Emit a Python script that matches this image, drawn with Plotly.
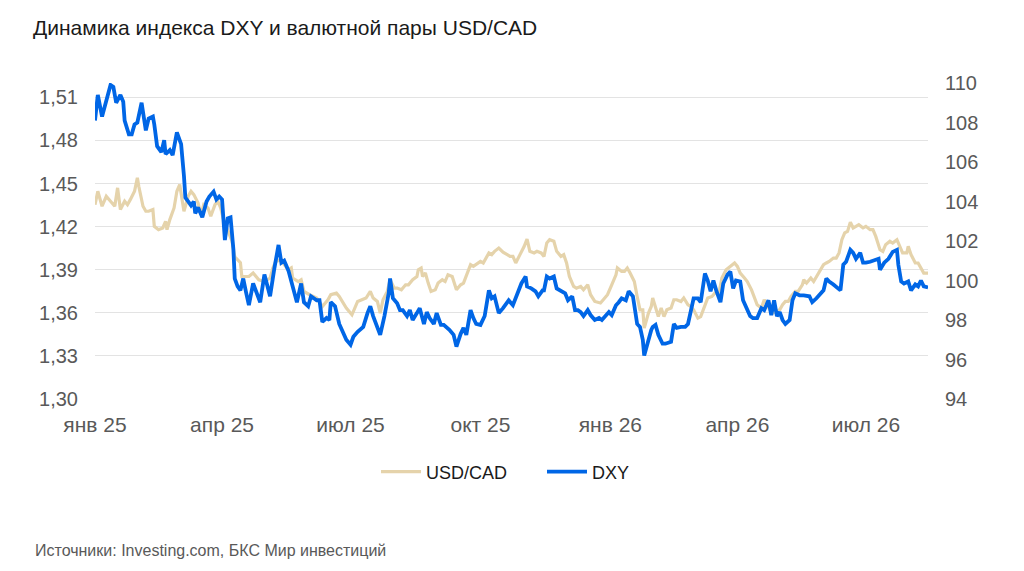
import plotly.graph_objects as go

# USD/CAD (left axis)
cad_dates = [
    "2025-01-01", "2025-01-03", "2025-01-06", "2025-01-09", "2025-01-12", "2025-01-15", "2025-01-17",
    "2025-01-19", "2025-01-22", "2025-01-24", "2025-01-26", "2025-01-29", "2025-01-31", "2025-02-01",
    "2025-02-04", "2025-02-06", "2025-02-08", "2025-02-11", "2025-02-12", "2025-02-15", "2025-02-18",
    "2025-02-20", "2025-02-21", "2025-02-23", "2025-02-26", "2025-02-28", "2025-03-02", "2025-03-05",
    "2025-03-08", "2025-03-10", "2025-03-12", "2025-03-15", "2025-03-17", "2025-03-19", "2025-03-22",
    "2025-03-24", "2025-03-27", "2025-03-29", "2025-03-31", "2025-04-02", "2025-04-04", "2025-04-08",
    "2025-04-10", "2025-04-14", "2025-04-15", "2025-04-17", "2025-04-20", "2025-04-23", "2025-04-25",
    "2025-04-27", "2025-05-01", "2025-05-05", "2025-05-07", "2025-05-09", "2025-05-13", "2025-05-15",
    "2025-05-18", "2025-05-20", "2025-05-21", "2025-05-25", "2025-05-27", "2025-05-29", "2025-06-02",
    "2025-06-07", "2025-06-11", "2025-06-15", "2025-06-17", "2025-06-21", "2025-06-23", "2025-06-26",
    "2025-06-28", "2025-07-02", "2025-07-04", "2025-07-06", "2025-07-09", "2025-07-12", "2025-07-15",
    "2025-07-17", "2025-07-20", "2025-07-22", "2025-07-24", "2025-07-27", "2025-07-29", "2025-08-01",
    "2025-08-03", "2025-08-06", "2025-08-09", "2025-08-11", "2025-08-14", "2025-08-17", "2025-08-18",
    "2025-08-20", "2025-08-21", "2025-08-23", "2025-08-25", "2025-08-27", "2025-08-30", "2025-09-01",
    "2025-09-04", "2025-09-06", "2025-09-08", "2025-09-11", "2025-09-14", "2025-09-17", "2025-09-19",
    "2025-09-21", "2025-09-24", "2025-09-26", "2025-09-28", "2025-10-01", "2025-10-03", "2025-10-07",
    "2025-10-09", "2025-10-11", "2025-10-14", "2025-10-17", "2025-10-20", "2025-10-22", "2025-10-24",
    "2025-10-26", "2025-10-29", "2025-11-01", "2025-11-03", "2025-11-05", "2025-11-08", "2025-11-10",
    "2025-11-13", "2025-11-15", "2025-11-17", "2025-11-19", "2025-11-22", "2025-11-24", "2025-11-27",
    "2025-11-29", "2025-12-01", "2025-12-03", "2025-12-06", "2025-12-08", "2025-12-11", "2025-12-13",
    "2025-12-16", "2025-12-18", "2025-12-21", "2025-12-25", "2025-12-27", "2025-12-30", "2026-01-02",
    "2026-01-05", "2026-01-06", "2026-01-09", "2026-01-11", "2026-01-13", "2026-01-15", "2026-01-18",
    "2026-01-20", "2026-01-22", "2026-01-24", "2026-01-25", "2026-01-28", "2026-01-30", "2026-01-31",
    "2026-02-02", "2026-02-04", "2026-02-06", "2026-02-08", "2026-02-10", "2026-02-13", "2026-02-15",
    "2026-02-17", "2026-02-20", "2026-02-22", "2026-02-25", "2026-02-27", "2026-03-01", "2026-03-04",
    "2026-03-06", "2026-03-09", "2026-03-11", "2026-03-14", "2026-03-16", "2026-03-19", "2026-03-21",
    "2026-03-24", "2026-03-27", "2026-03-30", "2026-04-01", "2026-04-03", "2026-04-06", "2026-04-08",
    "2026-04-11", "2026-04-13", "2026-04-15", "2026-04-18", "2026-04-20", "2026-04-22", "2026-04-24",
    "2026-04-26", "2026-04-28", "2026-05-01", "2026-05-03", "2026-05-05", "2026-05-07", "2026-05-09",
    "2026-05-12", "2026-05-14", "2026-05-17", "2026-05-18", "2026-05-20", "2026-05-23", "2026-05-25",
    "2026-05-27", "2026-05-29", "2026-06-01", "2026-06-03", "2026-06-05", "2026-06-08", "2026-06-10",
    "2026-06-12", "2026-06-14", "2026-06-16", "2026-06-18", "2026-06-20", "2026-06-22", "2026-06-24",
    "2026-06-26", "2026-06-29", "2026-07-01", "2026-07-04", "2026-07-06", "2026-07-08", "2026-07-11",
    "2026-07-13", "2026-07-15", "2026-07-18", "2026-07-20", "2026-07-23", "2026-07-25", "2026-07-27",
    "2026-07-30", "2026-07-31", "2026-08-02", "2026-08-05", "2026-08-07", "2026-08-09", "2026-08-11",
    "2026-08-14",
]
cad_values = [
    1.4353, 1.4446, 1.4342, 1.4411, 1.4377, 1.4342, 1.4470,
    1.4319, 1.4377, 1.4353, 1.4388, 1.4446, 1.4540, 1.4481,
    1.4342, 1.4307, 1.4307, 1.4319, 1.4202, 1.4179, 1.4191,
    1.4237, 1.4179, 1.4249, 1.4330, 1.4446, 1.4493, 1.4307,
    1.4411, 1.4446, 1.4423, 1.4365, 1.4284, 1.4353, 1.4330,
    1.4272, 1.4353, 1.4377, 1.4330, 1.4250, 1.4200, 1.4100,
    1.3990, 1.3949, 1.3853, 1.3853, 1.3853, 1.3877, 1.3853,
    1.3830, 1.3818, 1.3842, 1.3912, 1.3958, 1.3970, 1.3935,
    1.3900, 1.3912, 1.3842, 1.3818, 1.3830, 1.3749, 1.3726,
    1.3703, 1.3644, 1.3691, 1.3726, 1.3737, 1.3714, 1.3668,
    1.3633, 1.3586, 1.3633, 1.3679, 1.3691, 1.3703, 1.3749,
    1.3703, 1.3679, 1.3598, 1.3691, 1.3749, 1.3830, 1.3772,
    1.3772, 1.3760, 1.3795, 1.3795, 1.3830, 1.3853, 1.3900,
    1.3912, 1.3853, 1.3877, 1.3807, 1.3749, 1.3760, 1.3807,
    1.3830, 1.3818, 1.3865, 1.3853, 1.3760, 1.3795, 1.3807,
    1.3865, 1.3935, 1.3923, 1.3935, 1.3958, 1.3947, 1.4017,
    1.4005, 1.4028, 1.4051, 1.4022, 1.4005, 1.3993, 1.3993,
    1.3947, 1.4005, 1.4063, 1.4114, 1.4028, 1.4017, 1.4028,
    1.4017, 1.3993, 1.4086, 1.4109, 1.4098, 1.4028, 1.3993,
    1.4005, 1.3947, 1.3853, 1.3784, 1.3772, 1.3784, 1.3760,
    1.3795, 1.3726, 1.3679, 1.3668, 1.3691, 1.3726, 1.3795,
    1.3865, 1.3912, 1.3888, 1.3888, 1.3912, 1.3877, 1.3818,
    1.3714, 1.3621, 1.3621, 1.3493, 1.3598, 1.3644, 1.3703,
    1.3633, 1.3574, 1.3633, 1.3574, 1.3621, 1.3633, 1.3691,
    1.3691, 1.3679, 1.3703, 1.3656, 1.3644, 1.3621, 1.3563,
    1.3574, 1.3644, 1.3703, 1.3714, 1.3737, 1.3740, 1.3842,
    1.3900, 1.3923, 1.3947, 1.3923, 1.3877, 1.3842, 1.3818,
    1.3760, 1.3703, 1.3656, 1.3633, 1.3691, 1.3656, 1.3621,
    1.3598, 1.3609, 1.3621, 1.3656, 1.3679, 1.3679, 1.3714,
    1.3749, 1.3749, 1.3795, 1.3830, 1.3807, 1.3842, 1.3818,
    1.3853, 1.3888, 1.3935, 1.3947, 1.3958, 1.3981, 1.3981,
    1.4017, 1.4109, 1.4156, 1.4167, 1.4230, 1.4191, 1.4202,
    1.4214, 1.4191, 1.4202, 1.4179, 1.4179, 1.4132, 1.4040,
    1.4028, 1.4074, 1.4098, 1.4086, 1.4109, 1.4063, 1.4017,
    1.4017, 1.4063, 1.4005, 1.3947, 1.3947, 1.3912, 1.3877,
    1.3877,
]

# DXY (right axis)
dxy_dates = [
    "2025-01-01", "2025-01-03", "2025-01-06", "2025-01-09", "2025-01-12", "2025-01-14", "2025-01-16",
    "2025-01-19", "2025-01-21", "2025-01-22", "2025-01-25", "2025-01-27", "2025-01-29", "2025-01-31",
    "2025-02-03", "2025-02-06", "2025-02-08", "2025-02-11", "2025-02-12", "2025-02-14", "2025-02-17",
    "2025-02-19", "2025-02-20", "2025-02-23", "2025-02-25", "2025-02-28", "2025-03-03", "2025-03-05",
    "2025-03-06", "2025-03-09", "2025-03-10", "2025-03-12", "2025-03-13", "2025-03-15", "2025-03-18",
    "2025-03-21", "2025-03-23", "2025-03-26", "2025-03-28", "2025-03-30", "2025-04-01", "2025-04-03",
    "2025-04-05", "2025-04-07", "2025-04-09", "2025-04-10", "2025-04-12", "2025-04-14", "2025-04-16",
    "2025-04-18", "2025-04-20", "2025-04-23", "2025-04-25", "2025-04-28", "2025-05-01", "2025-05-03",
    "2025-05-05", "2025-05-08", "2025-05-09", "2025-05-11", "2025-05-13", "2025-05-15", "2025-05-18",
    "2025-05-20", "2025-05-22", "2025-05-24", "2025-05-27", "2025-05-29", "2025-06-01", "2025-06-03",
    "2025-06-05", "2025-06-07", "2025-06-09", "2025-06-11", "2025-06-14", "2025-06-16", "2025-06-17",
    "2025-06-20", "2025-06-23", "2025-06-26", "2025-06-28", "2025-07-01", "2025-07-03", "2025-07-06",
    "2025-07-10", "2025-07-13", "2025-07-15", "2025-07-17", "2025-07-20", "2025-07-22", "2025-07-25",
    "2025-07-28", "2025-07-29", "2025-07-31", "2025-08-03", "2025-08-05", "2025-08-07", "2025-08-10",
    "2025-08-12", "2025-08-14", "2025-08-17", "2025-08-19", "2025-08-22", "2025-08-24", "2025-08-26",
    "2025-08-29", "2025-08-31", "2025-09-03", "2025-09-05", "2025-09-07", "2025-09-09", "2025-09-12",
    "2025-09-14", "2025-09-17", "2025-09-19", "2025-09-21", "2025-09-24", "2025-09-26", "2025-09-28",
    "2025-10-01", "2025-10-04", "2025-10-07", "2025-10-09", "2025-10-11", "2025-10-14", "2025-10-17",
    "2025-10-21", "2025-10-24", "2025-10-27", "2025-10-30", "2025-11-02", "2025-11-03", "2025-11-06",
    "2025-11-09", "2025-11-11", "2025-11-14", "2025-11-15", "2025-11-17", "2025-11-19", "2025-11-22",
    "2025-11-24", "2025-11-28", "2025-11-30", "2025-12-02", "2025-12-05", "2025-12-07", "2025-12-09",
    "2025-12-11", "2025-12-13", "2025-12-16", "2025-12-18", "2025-12-21", "2025-12-24", "2025-12-26",
    "2025-12-29", "2025-12-31", "2026-01-02", "2026-01-05", "2026-01-07", "2026-01-09", "2026-01-12",
    "2026-01-14", "2026-01-17", "2026-01-18", "2026-01-20", "2026-01-22", "2026-01-24", "2026-01-25",
    "2026-01-27", "2026-01-30", "2026-01-31", "2026-02-02", "2026-02-04", "2026-02-07", "2026-02-09",
    "2026-02-13", "2026-02-15", "2026-02-17", "2026-02-20", "2026-02-23", "2026-02-25", "2026-02-27",
    "2026-03-01", "2026-03-04", "2026-03-06", "2026-03-09", "2026-03-11", "2026-03-13", "2026-03-15",
    "2026-03-17", "2026-03-20", "2026-03-22", "2026-03-25", "2026-03-27", "2026-03-29", "2026-03-31",
    "2026-04-03", "2026-04-05", "2026-04-08", "2026-04-10", "2026-04-12", "2026-04-15", "2026-04-18",
    "2026-04-20", "2026-04-23", "2026-04-25", "2026-04-27", "2026-04-29", "2026-05-01", "2026-05-03",
    "2026-05-05", "2026-05-08", "2026-05-10", "2026-05-12", "2026-05-15", "2026-05-18", "2026-05-22",
    "2026-05-24", "2026-05-27", "2026-05-30", "2026-06-01", "2026-06-03", "2026-06-05", "2026-06-08",
    "2026-06-11", "2026-06-13", "2026-06-15", "2026-06-17", "2026-06-20", "2026-06-22", "2026-06-24",
    "2026-06-27", "2026-06-29", "2026-07-01", "2026-07-04", "2026-07-07", "2026-07-10", "2026-07-11",
    "2026-07-14", "2026-07-17", "2026-07-20", "2026-07-23", "2026-07-24", "2026-07-26", "2026-07-28",
    "2026-07-31", "2026-08-02", "2026-08-05", "2026-08-07", "2026-08-09", "2026-08-11", "2026-08-14",
]
dxy_values = [
    108.1, 109.4, 108.3, 109.1, 109.9, 109.8, 109.0,
    109.4, 109.05, 108.1, 107.4, 107.4, 107.9, 108.0,
    109.0, 107.6, 108.2, 108.3, 107.9, 106.8, 106.5,
    107.1, 106.4, 106.6, 106.35, 107.5, 106.9, 105.3,
    104.2, 103.9, 103.8, 104.0, 103.4, 103.7, 103.2,
    104.0, 104.25, 104.5, 104.1, 104.25, 104.1, 102.05,
    103.15, 103.2, 101.6, 100.1, 99.7, 99.5, 100.1,
    99.4, 98.75, 99.85, 99.5, 98.9, 100.3, 99.8,
    99.2, 100.6, 101.0, 101.8, 100.9, 101.0, 100.5,
    100.0, 99.4, 98.9, 99.85, 98.9, 98.7, 99.2,
    99.1, 99.0, 99.0, 97.9, 98.1, 98.0, 98.9,
    98.7, 97.8, 97.25, 97.0, 96.75, 97.15, 97.4,
    97.65, 98.35, 98.7, 98.2, 97.65, 97.25, 98.2,
    99.35, 100.1, 99.1, 98.85, 98.5, 98.5, 98.2,
    98.5, 98.0, 98.35, 98.6, 97.8, 98.4, 98.1,
    97.8, 98.35, 97.75, 97.75, 97.65, 97.5, 97.25,
    96.65, 97.3, 97.6, 97.25, 98.5, 98.1, 97.8,
    97.75, 98.2, 99.5, 99.1, 99.2, 98.35, 98.6,
    99.0, 98.75, 99.35, 99.85, 100.2, 99.7, 99.6,
    99.45, 99.2, 99.5, 99.5, 100.2, 100.1, 100.2,
    99.6, 99.45, 99.35, 99.0, 99.2, 98.5, 98.5,
    98.4, 98.2, 98.5, 98.25, 98.0, 98.1, 98.0,
    98.25, 98.4, 98.25, 98.75, 98.9, 99.1, 99.0,
    99.45, 99.2, 98.7, 97.8, 97.65, 97.0, 96.2,
    96.8, 97.5, 97.65, 97.75, 97.25, 96.8, 96.8,
    96.9, 97.8, 97.6, 97.65, 97.65, 97.8, 98.5,
    99.1, 99.1, 98.9, 100.35, 100.0, 99.45, 100.0,
    99.5, 98.9, 99.85, 100.3, 100.45, 99.6, 100.0,
    99.95, 99.0, 98.5, 98.2, 98.1, 98.1, 98.6,
    98.5, 99.0, 98.25, 99.0, 98.2, 98.4, 98.0,
    97.8, 98.0, 99.0, 99.35, 99.25, 99.25, 99.2,
    98.9, 99.1, 99.35, 99.5, 100.1, 99.95, 99.8,
    99.6, 99.5, 100.8, 100.95, 101.55, 101.4, 101.1,
    101.4, 100.9, 100.9, 100.95, 101.05, 101.1, 100.55,
    100.9, 101.1, 101.45, 101.55, 100.8, 99.95, 99.85,
    99.95, 99.5, 99.8, 99.7, 100.0, 99.7, 99.65,
]

tick_dates = ["2025-01-01", "2025-04-01", "2025-07-01", "2025-10-01",
              "2026-01-01", "2026-04-01", "2026-07-01"]
tick_labels = ["янв 25", "апр 25", "июл 25", "окт 25", "янв 26", "апр 26", "июл 26"]

left_ticks = [1.30, 1.33, 1.36, 1.39, 1.42, 1.45, 1.48, 1.51]
right_ticks = [94, 96, 98, 100, 102, 104, 106, 108, 110]

font_family = "Liberation Sans, Arial, sans-serif"
grey = "#595959"

# the page body adds an 8px margin, so the figure is a bit smaller than the window
fig_w, fig_h = 1008, 555
plot_l, plot_r, plot_t, plot_b = 87, 920, 75, 391

fig = go.Figure()
fig.add_trace(go.Scatter(
    x=cad_dates,
    y=cad_values,
    mode="lines",
    line=dict(color="#E5D3AB", width=3.2),
    name="USD/CAD",
    yaxis="y"
))
fig.add_trace(go.Scatter(
    x=dxy_dates,
    y=dxy_values,
    mode="lines",
    line=dict(color="#0066E6", width=3.8),
    name="DXY",
    yaxis="y2"
))

fig.update_layout(
    width=fig_w,
    height=fig_h,
    margin=dict(l=plot_l, r=fig_w - plot_r, t=plot_t, b=fig_h - plot_b),
    paper_bgcolor="white",
    plot_bgcolor="white",
    separators=", ",
    font=dict(family=font_family, size=20, color=grey),
    title=dict(
        text="Динамика индекса DXY и валютной пары USD/CAD",
        x=25 / fig_w,
        xanchor="left",
        xref="container",
        y=1 - 20 / fig_h,
        yanchor="middle",
        font=dict(family=font_family, size=21, color="#1a1a1a")
    ),
    xaxis=dict(
        type="date",
        range=["2025-01-01", "2026-08-14"],
        tickvals=tick_dates,
        ticktext=tick_labels,
        showgrid=False,
        zeroline=False,
        showline=False,
        ticks="",
        tickfont=dict(size=21, color=grey),
        ticklabelstandoff=11
    ),
    yaxis=dict(
        range=[1.30, 1.52],
        tickvals=left_ticks,
        tickformat=".2f",
        showgrid=True,
        gridcolor="#E3E3E3",
        gridwidth=1,
        zeroline=False,
        showline=False,
        ticks="",
        tickfont=dict(size=20, color=grey),
        ticklabelstandoff=16
    ),
    yaxis2=dict(
        range=[94, 110],
        tickvals=right_ticks,
        overlaying="y",
        side="right",
        showgrid=False,
        zeroline=False,
        showline=False,
        ticks="",
        tickfont=dict(size=20, color=grey),
        ticklabelstandoff=16
    ),
    legend=dict(
        orientation="h",
        x=(368 - plot_l) / (plot_r - plot_l),
        xanchor="left",
        y=(plot_b - 464) / (plot_b - plot_t),
        yanchor="middle",
        font=dict(size=18, color="#1a1a1a"),
        itemwidth=40,
        entrywidth=111,
        entrywidthmode="pixels"
    ),
    showlegend=True
)

fig.add_annotation(
    text="Источники: Investing.com, БКС Мир инвестиций",
    xref="paper",
    yref="paper",
    x=(25 - plot_l) / (plot_r - plot_l),
    y=(plot_b - 542) / (plot_b - plot_t),
    xanchor="left",
    yanchor="middle",
    showarrow=False,
    font=dict(family=font_family, size=16, color=grey)
)

fig.write_html("out.html")
